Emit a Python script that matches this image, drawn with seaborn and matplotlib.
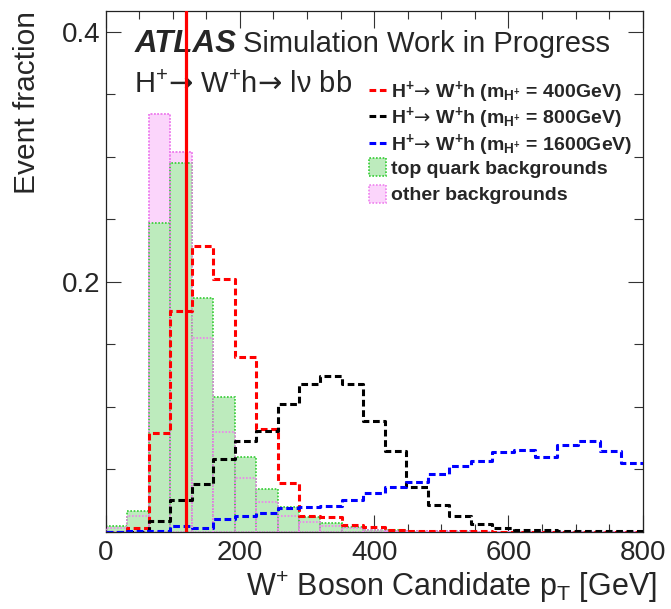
import numpy as np
import pandas as pd
import seaborn as sns
import matplotlib
matplotlib.use("Agg")
import matplotlib.pyplot as plt
from matplotlib.lines import Line2D
from matplotlib.patches import Patch
from matplotlib.ticker import MultipleLocator, FixedLocator, FixedFormatter

# 32 GeV bins from 0 to 800 GeV
bin_width = 32
bin_centers = np.arange(0, 800, bin_width) + bin_width / 2

# Normalised event fractions per bin
top_quark_bkg = [0.005, 0.017, 0.247, 0.295, 0.187, 0.108, 0.060, 0.034, 0.020, 0.012,
                 0.007, 0.004, 0.002, 0.0015, 0.001, 0.0008, 0.0005, 0.0004, 0.0003, 0.0002,
                 0.0002, 0.0001, 0.0001, 0.0001, 0.0001]
other_bkg = [0.003, 0.013, 0.334, 0.304, 0.155, 0.080, 0.043, 0.024, 0.013, 0.008,
             0.005, 0.003, 0.002, 0.001, 0.001, 0.0005, 0.0005, 0.0003, 0.0002, 0.0002,
             0.0001, 0.0001, 0.0001, 0.0001, 0.0001]
signal_400 = [0.0, 0.003, 0.079, 0.177, 0.229, 0.202, 0.140, 0.082, 0.039, 0.013,
              0.012, 0.006, 0.004, 0.0015, 0.001, 0.0008, 0.0005, 0.0005, 0.0003, 0.0003,
              0.0002, 0.0002, 0.0001, 0.0001, 0.0001]
signal_800 = [0.0, 0.0, 0.0088, 0.026, 0.038, 0.058, 0.073, 0.081, 0.102, 0.118,
              0.125, 0.118, 0.089, 0.065, 0.036, 0.022, 0.013, 0.0067, 0.0035, 0.002,
              0.0015, 0.001, 0.001, 0.0005, 0.0005]
signal_1600 = [0.0, 0.0005, 0.001, 0.0045, 0.003, 0.0107, 0.0126, 0.0155, 0.0195, 0.020,
               0.0206, 0.0254, 0.0308, 0.036, 0.040, 0.046, 0.0527, 0.057, 0.064, 0.0655,
               0.060, 0.0695, 0.073, 0.0647, 0.0553]

# arrow taken from DejaVu Sans, without the relation spacing mathtext adds
ARROW = r"$\mathrm{→}$"
signal_labels = [
    r"H$^{+}$" + ARROW + r" W$^{+}$h (m$_{H^{+}}$ = 400GeV)",
    r"H$^{+}$" + ARROW + r" W$^{+}$h (m$_{H^{+}}$ = 800GeV)",
    r"H$^{+}$" + ARROW + r" W$^{+}$h (m$_{H^{+}}$ = 1600GeV)",
]
bkg_labels = ["top quark backgrounds", "other backgrounds"]
process_label = r"H$^{+}$" + ARROW + r" W$^{+}$h" + ARROW + r" lν bb"
w_pt_cut = 120

df = pd.DataFrame({
    "pt": bin_centers,
    "top": top_quark_bkg,
    "other": other_bkg,
    "s400": signal_400,
    "s800": signal_800,
    "s1600": signal_1600,
})

sns.set_style("ticks")
plt.rcParams["font.family"] = ["Liberation Sans", "DejaVu Sans"]
plt.rcParams["mathtext.default"] = "regular"

fig = plt.figure(figsize=(6.71, 6.09), dpi=100)
ax = fig.add_axes([0.1575, 0.1264, 0.8003, 0.856])

green_face, green_edge = "#bdebbd", "#33cc33"
pink_face, pink_edge = "#fbd5fb", "#ee82ee"
sig_colors = ["#ff0000", "#000000", "#0000ff"]
dash = (0, (2.2, 1.2))
dot = (0, (1, 1))
hist_kw = dict(data=df, x="pt", binwidth=bin_width, binrange=(0, 800), ax=ax)

# Backgrounds: filled bars with dotted outlines
sns.histplot(weights="other", element="bars", fill=True, facecolor=pink_face,
             edgecolor=pink_edge, linewidth=1.2, linestyle=dot, zorder=1, **hist_kw)
sns.histplot(weights="top", element="bars", fill=True, facecolor=green_face,
             edgecolor=green_edge, linewidth=1.2, linestyle=dot, zorder=2, **hist_kw)
sns.histplot(weights="other", element="bars", fill=False, color=pink_edge,
             linewidth=1.2, linestyle=dot, zorder=3, **hist_kw)

# Signal hypotheses: dashed step outlines
for col, c in zip(["s400", "s800", "s1600"], sig_colors):
    sns.histplot(weights=col, element="step", fill=False, color=c, linewidth=2.2,
                 linestyle=dash, zorder=4, **hist_kw)

ax.axvline(w_pt_cut, color="#ff0000", linewidth=2.3, zorder=5)

ax.set_xlim(0, 800)
ax.set_ylim(0, 0.4168)

ax.xaxis.set_major_locator(MultipleLocator(200))
ax.xaxis.set_minor_locator(MultipleLocator(50))
ax.yaxis.set_major_locator(FixedLocator([0.0, 0.2, 0.4]))
ax.yaxis.set_major_formatter(FixedFormatter(["", "0.2", "0.4"]))
ax.yaxis.set_minor_locator(MultipleLocator(0.05))
ax.tick_params(which="both", direction="in", top=True, right=True, width=0.8, color="#333333")
ax.tick_params(axis="x", which="major", length=12, labelsize=20, pad=6)
ax.tick_params(axis="x", which="minor", length=6)
ax.tick_params(axis="y", which="major", length=11, labelsize=20, pad=4)
ax.tick_params(axis="y", which="minor", length=6.5)
for s in ax.spines.values():
    s.set_linewidth(0.9)
    s.set_color("#222222")

ax.set_xlabel(r"W$^{+}$ Boson Candidate p$_{T}$ [GeV]", fontsize=22, loc="right")
ax.xaxis.set_label_coords(1.027, -0.072)
ax.set_ylabel("Event fraction", fontsize=21.5, loc="top")
ax.yaxis.set_label_coords(-0.12, 1.0)

ax.text(0.0546, 0.921, "ATLAS", transform=ax.transAxes, fontsize=22.5, fontweight="bold",
        fontstyle="italic", va="baseline")
ax.text(0.256, 0.921, "Simulation Work in Progress", transform=ax.transAxes, fontsize=21,
        va="baseline")
ax.text(0.0527, 0.843, process_label, transform=ax.transAxes, fontsize=21, va="baseline")

legend_font = {"weight": "bold", "size": 14, "family": ["Liberation Sans", "DejaVu Sans"]}
common = dict(loc="upper left", frameon=False, borderpad=0, borderaxespad=0,
              handlelength=0.9, handletextpad=0.25, prop=legend_font)

sig_handles = [Line2D([], [], color=c, linewidth=2.2, linestyle=dash) for c in sig_colors]
leg_sig = ax.legend(sig_handles, signal_labels, bbox_to_anchor=(0.49, 0.8696),
                    labelspacing=0.03, **common)
ax.add_artist(leg_sig)

bkg_handles = [Patch(facecolor=green_face, edgecolor=green_edge, linewidth=1.2, linestyle=dot),
               Patch(facecolor=pink_face, edgecolor=pink_edge, linewidth=1.2, linestyle=dot)]
ax.legend(bkg_handles, bkg_labels, bbox_to_anchor=(0.49, 0.7174), labelspacing=0.36,
          handleheight=1.05, **common)

fig.savefig("out.png", dpi=100)
